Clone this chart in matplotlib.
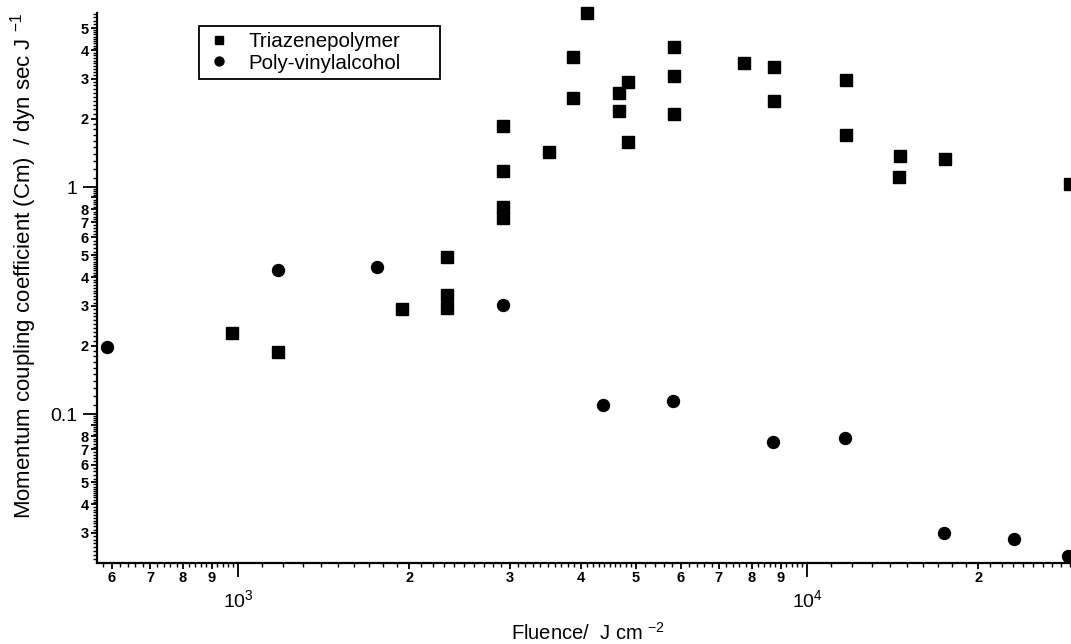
import numpy as np
import matplotlib
matplotlib.use("Agg")
import matplotlib.pyplot as plt
from matplotlib.ticker import FixedLocator, FuncFormatter

# ---------------- data ----------------
tri_x = [975, 1174, 1944, 2333, 2333, 2333, 2927, 2927, 2927, 2927, 3516,
         3885, 3885, 4100, 4677, 4677, 4853, 4853, 5840, 5840, 5840,
         7742, 8738, 8738, 11700, 11700, 14490, 14570, 17480, 28980]
tri_y = [0.227, 0.188, 0.29, 0.292, 0.335, 0.49, 0.728, 0.814, 1.18, 1.86, 1.42,
         2.47, 3.75, 5.86, 2.16, 2.59, 1.58, 2.89, 2.10, 3.09, 4.15,
         3.51, 2.40, 3.38, 1.69, 2.96, 1.11, 1.37, 1.33, 1.03]
pva_x = [588, 1177, 1753, 2927, 4385, 5822, 8720, 11670, 17410, 23110, 28800]
pva_y = [0.198, 0.431, 0.446, 0.302, 0.110, 0.1138, 0.0750, 0.0782, 0.030, 0.0282, 0.0238]

series_labels = ["Triazenepolymer", "Poly-vinylalcohol"]
x_label = r"Fluence/  J cm $^{\mathregular{-2}}$"
y_label = r"Momentum coupling coefficient (Cm)  / dyn sec J $^{\mathregular{-1}}$"

# ---------------- style ----------------
plt.rcParams['font.family'] = ['Liberation Sans', 'DejaVu Sans']
plt.rcParams['mathtext.fontset'] = 'custom'
plt.rcParams['mathtext.rm'] = 'Liberation Sans'
plt.rcParams['mathtext.it'] = 'Liberation Sans:italic'
plt.rcParams['mathtext.bf'] = 'Liberation Sans:bold'

W, H = 1071, 644
fig = plt.figure(figsize=(W / 100, H / 100), dpi=100)
ax = fig.add_axes([97 / W, 1 - 563 / H, (W - 97) / W, (563 - 13) / H])

ax.set_xscale('log')
ax.set_yscale('log')
ax.set_xlim(565, 29100)
ax.set_ylim(0.0221, 5.84)

ms = 8.6
ax.plot(tri_x, tri_y, ls='none', marker='s', ms=ms, color='black', mec='black',
        label=series_labels[0], clip_on=False)
ax.plot(pva_x, pva_y, ls='none', marker='o', ms=ms, color='black', mec='black',
        label=series_labels[1], clip_on=False)

for s in ['top', 'right']:
    ax.spines[s].set_visible(False)
for s in ['left', 'bottom']:
    ax.spines[s].set_linewidth(1.6)

# major ticks
ax.xaxis.set_major_locator(FixedLocator([1e3, 1e4]))
ax.xaxis.set_major_formatter(FuncFormatter(
    lambda v, p: r"$\mathregular{10^{%d}}$" % int(round(np.log10(v)))))
ax.yaxis.set_major_locator(FixedLocator([0.01, 0.1, 1, 10]))
ax.yaxis.set_major_formatter(FuncFormatter(
    lambda v, p: {0.01: "0.01", 0.1: "0.1", 1: "1", 10: "10"}.get(v, "")))

# minor (labelled) ticks
xminor = [m * 10.0 ** e for e in (2, 3, 4) for m in range(2, 10)]
yminor = [m * 10.0 ** e for e in (-2, -1, 0) for m in range(2, 10)]
ax.xaxis.set_minor_locator(FixedLocator(xminor))
ax.yaxis.set_minor_locator(FixedLocator(yminor))


def mant(v, p):
    e = np.floor(np.log10(v) + 1e-9)
    return str(int(round(v / 10 ** e)))


def ymant(v, p):
    e = np.floor(np.log10(v) + 1e-9)
    m = int(round(v / 10 ** e))
    return "" if m == 9 else str(m)


ax.xaxis.set_minor_formatter(FuncFormatter(mant))
ax.yaxis.set_minor_formatter(FuncFormatter(ymant))

ax.tick_params(axis='both', which='major', direction='out', length=10, width=1.3,
               labelsize=14)
ax.tick_params(axis='x', which='major', pad=9)
ax.tick_params(axis='y', which='major', pad=4)
ax.tick_params(axis='both', which='minor', direction='out', length=4.5, width=1.3,
               labelsize=10.5, pad=1.5)
for lab in ax.xaxis.get_minorticklabels() + ax.yaxis.get_minorticklabels():
    lab.set_fontweight('bold')

# tiny extra ticks (Origin-style sub-minor ticks)
sub = list(np.arange(1.1, 5.0, 0.1)) + list(np.arange(5.2, 10.0, 0.2))
sub = [m for m in sub if abs(m - round(m)) > 1e-6]
xs = [m * 10.0 ** e for e in (2, 3, 4) for m in sub]
xs = [v for v in xs if 565 < v < 29100]
ys = [m * 10.0 ** e for e in (-2, -1, 0) for m in sub]
ys = [v for v in ys if 0.0221 < v < 5.84]
ax.plot(xs, [0] * len(xs), ls='none', marker=3, ms=3, mew=1.0, color='black',
        transform=ax.get_xaxis_transform(), clip_on=False)
ax.plot([0] * len(ys), ys, ls='none', marker=0, ms=3, mew=1.0, color='black',
        transform=ax.get_yaxis_transform(), clip_on=False)

# labels
fig.text(588 / W, 1 - 633 / H, x_label, ha='center', va='center', fontsize=14.5)
fig.text(24 / W, 1 - 266 / H, y_label, ha='center', va='center', fontsize=16,
         rotation=90)

# legend with a fixed-width frame
lx0, lx1, ly0, ly1 = 199, 440, 26, 82
bb = ((lx0 - 97) / 974, (563 - ly1) / 550, (lx1 - lx0) / 974, (ly1 - ly0) / 550)
leg = ax.legend(loc='upper left', bbox_to_anchor=bb, mode='expand',
                borderaxespad=0, fontsize=14.8, frameon=True, fancybox=False,
                framealpha=1, edgecolor='black', markerscale=0.75,
                labelspacing=0.12, handletextpad=0.8, handlelength=1.3,
                borderpad=0.3)
leg.get_frame().set_linewidth(1.3)

fig.savefig("out.png", dpi=100)
